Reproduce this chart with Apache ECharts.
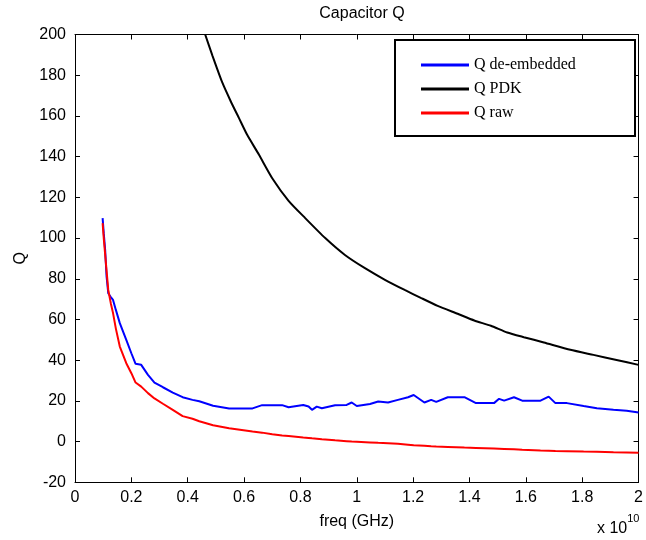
<!DOCTYPE html>
<html>
<head>
<meta charset="utf-8">
<style>
  html, body { margin: 0; padding: 0; background: #ffffff; }
  #chart { width: 646px; height: 540px; }
</style>
<script src="https://cdn.jsdelivr.net/npm/echarts@6/dist/echarts.min.js"></script>
</head>
<body>
<div id="chart"></div>
<script>
// Frequency grid (x 1e10 Hz) shared by the measured curves
var freq = [0.098, 0.102, 0.107, 0.112, 0.118, 0.127, 0.135, 0.145, 0.159, 0.182,
            0.200, 0.215, 0.235, 0.259, 0.282, 0.312, 0.347, 0.382, 0.417, 0.441,
            0.490, 0.547, 0.630, 0.664, 0.700, 0.735, 0.758, 0.810, 0.829, 0.841,
            0.858, 0.876, 0.923, 0.964, 0.982, 1.000, 1.047, 1.076, 1.111, 1.146,
            1.182, 1.202, 1.240, 1.264, 1.282, 1.323, 1.382, 1.423, 1.487, 1.505,
            1.523, 1.558, 1.587, 1.652, 1.681, 1.705, 1.746, 1.805, 1.852, 1.911,
            1.958, 2.000];

var qDeembedded = [109.8, 102.4, 94.2, 81.1, 72.9, 71.0, 69.6, 64.7, 58.2, 50.0,
                   43.4, 38.2, 37.7, 32.8, 29.0, 26.7, 24.1, 21.8, 20.5, 19.8,
                   17.6, 16.3, 16.3, 17.9, 17.9, 17.9, 16.9, 18.0, 17.2, 15.6,
                   17.2, 16.4, 17.9, 18.0, 19.2, 17.5, 18.5, 19.7, 19.2, 20.5,
                   21.8, 22.9, 19.2, 20.5, 19.5, 21.8, 21.8, 18.9, 18.9, 21.0,
                   20.1, 21.8, 20.1, 20.1, 22.1, 18.9, 18.9, 17.5, 16.4, 15.6,
                   15.2, 14.3];

var qRaw = [107.3, 100.0, 92.0, 84.0, 74.5, 68.0, 63.1, 55.5, 46.7, 38.5,
            33.6, 29.0, 27.0, 23.8, 21.2, 18.6, 15.6, 12.5, 11.2, 10.0,
            8.0, 6.6, 5.0, 4.4, 3.6, 3.0, 2.7, 2.0, 1.8, 1.6,
            1.4, 1.1, 0.6, 0.2, 0.0, -0.1, -0.4, -0.6, -0.8, -1.1,
            -1.5, -1.8, -2.1, -2.3, -2.4, -2.6, -2.9, -3.1, -3.4, -3.5,
            -3.6, -3.8, -4.0, -4.4, -4.5, -4.6, -4.7, -4.9, -5.0, -5.2,
            -5.3, -5.5];

// PDK model curve, from where it enters the plotted range
var freqPDK = [0.462, 0.488, 0.523, 0.553, 0.582, 0.611, 0.653, 0.700, 0.758, 0.817,
               0.888, 0.958, 1.029, 1.100, 1.170, 1.229, 1.287, 1.358, 1.417, 1.476,
               1.534, 1.593, 1.664, 1.758, 1.840, 1.922, 2.000];
var qPDK = [200.0, 189.5, 176.3, 167.1, 158.9, 150.7, 140.9, 129.4, 118.3, 109.8,
            100.0, 91.7, 85.2, 79.5, 74.5, 70.5, 66.7, 62.8, 59.5, 56.9,
            53.6, 51.3, 48.7, 45.1, 42.6, 40.1, 37.7];

var seriesNames = ['Q de-embedded', 'Q PDK', 'Q raw'];
var seriesColors = ['#0000ff', '#000000', '#ff0000'];

function pairs(xs, ys) {
  return xs.map(function (x, i) { return [x, ys[i]]; });
}

var labelFont = "'Liberation Sans', Arial, Helvetica, sans-serif";
var legendFont = "'Liberation Serif', 'Times New Roman', serif";

var chart = echarts.init(document.getElementById('chart'), null, { renderer: 'canvas' });

var axisCommon = {
  axisLine: { show: true, onZero: false, lineStyle: { color: '#000', width: 1 } },
  axisTick: { show: true, inside: true, length: 5, lineStyle: { color: '#000', width: 1 } },
  splitLine: { show: false }
};

var option = {
  animation: false,
  backgroundColor: '#ffffff',
  title: {
    text: 'Capacitor Q',
    left: 357, top: 1, textAlign: 'center',
    textStyle: { fontFamily: labelFont, fontSize: 16, fontWeight: 'normal', color: '#000' }
  },
  grid: { left: 75, right: 4, top: 34.5, bottom: 57.7, containLabel: false },
  legend: {
    data: seriesNames,
    orient: 'vertical',
    left: 421, top: 57,
    z: 100,
    padding: 0,
    itemWidth: 48, itemHeight: 3, itemGap: 8,
    icon: 'rect',
    textStyle: { fontFamily: legendFont, fontSize: 16, lineHeight: 16, color: '#000' }
  },
  graphic: [
    {
      type: 'rect', z: 5,
      shape: { x: 395, y: 40, width: 240, height: 96 },
      style: { fill: '#ffffff', stroke: '#000', lineWidth: 2 }
    },
    {
      type: 'text', z: 60, left: 597, top: 513,
      style: {
        text: '{a|x 10}{b|10}',
        rich: {
          a: { fontFamily: labelFont, fontSize: 16, fill: '#000', verticalAlign: 'bottom', lineHeight: 24 },
          b: { fontFamily: labelFont, fontSize: 11, fill: '#000', verticalAlign: 'top', lineHeight: 24 }
        }
      }
    }
  ],
  xAxis: [
    Object.assign({}, axisCommon, {
      type: 'value', position: 'bottom', min: 0, max: 2, interval: 0.2,
      name: 'freq (GHz)', nameLocation: 'middle', nameGap: 31,
      nameTextStyle: { fontFamily: labelFont, fontSize: 16, color: '#000' },
      axisLabel: {
        margin: 7, color: '#000', fontFamily: labelFont, fontSize: 16,
        formatter: function (v) { return String(Math.round(v * 10) / 10); }
      }
    }),
    Object.assign({}, axisCommon, {
      type: 'value', position: 'top', min: 0, max: 2, interval: 0.2,
      axisLabel: { show: false }
    })
  ],
  yAxis: [
    Object.assign({}, axisCommon, {
      type: 'value', position: 'left', min: -20, max: 200, interval: 20,
      name: 'Q', nameLocation: 'middle', nameGap: 45, nameRotate: 90,
      nameTextStyle: { fontFamily: labelFont, fontSize: 16, color: '#000' },
      axisLabel: { margin: 9, color: '#000', fontFamily: labelFont, fontSize: 16 }
    }),
    Object.assign({}, axisCommon, {
      type: 'value', position: 'right', min: -20, max: 200, interval: 20,
      axisLabel: { show: false }
    })
  ],
  series: [
    {
      name: seriesNames[0], type: 'line', data: pairs(freq, qDeembedded),
      showSymbol: false, clip: true, z: 3,
      lineStyle: { color: seriesColors[0], width: 2 }, itemStyle: { color: seriesColors[0] }
    },
    {
      name: seriesNames[1], type: 'line', data: pairs(freqPDK, qPDK),
      showSymbol: false, clip: true, z: 3, smooth: 0.2,
      lineStyle: { color: seriesColors[1], width: 2 }, itemStyle: { color: seriesColors[1] }
    },
    {
      name: seriesNames[2], type: 'line', data: pairs(freq, qRaw),
      showSymbol: false, clip: true, z: 3,
      lineStyle: { color: seriesColors[2], width: 2 }, itemStyle: { color: seriesColors[2] }
    }
  ]
};

chart.setOption(option);
</script>
</body>
</html>
